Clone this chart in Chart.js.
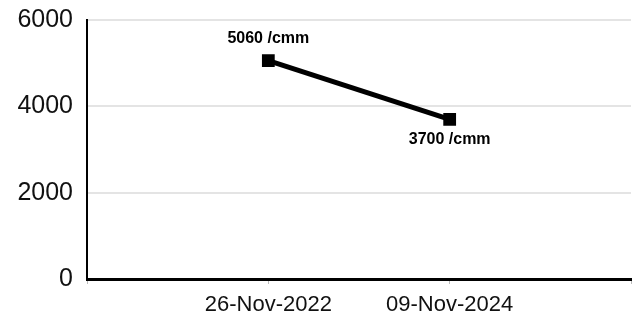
<!DOCTYPE html>
<html>
<head>
<meta charset="utf-8">
<script src="https://cdn.jsdelivr.net/npm/chart.js@4/dist/chart.umd.min.js"></script>
<style>
html,body{margin:0;padding:0;background:#fff;}
#wrap{width:636px;height:322px;position:relative;}
</style>
</head>
<body>
<div id="wrap"><canvas id="c"></canvas></div>
<script>
const categories = ['', '26-Nov-2022', '09-Nov-2024', ''];
const values = [null, 5060, 3700, null];
const pointLabels = [null, '5060 /cmm', '3700 /cmm', null];
const labelSide = [null, 'above', 'below', null];
const yTicks = [0, 2000, 4000, 6000];

const labelPlugin = {
  id: 'pointLabels',
  afterDatasetsDraw(chart) {
    const ctx = chart.ctx;
    const meta = chart.getDatasetMeta(0);
    ctx.save();
    ctx.font = 'bold 16px "Liberation Sans", Arial, sans-serif';
    ctx.fillStyle = '#000';
    ctx.textAlign = 'center';
    ctx.textBaseline = 'middle';
    meta.data.forEach((el, i) => {
      if (pointLabels[i] == null) return;
      const dy = labelSide[i] === 'above' ? -22 : 20;
      ctx.fillText(pointLabels[i], el.x, el.y + dy);
    });
    ctx.restore();
  }
};

new Chart(document.getElementById('c'), {
  type: 'line',
  data: {
    labels: categories,
    datasets: [{
      data: values,
      borderColor: '#000',
      backgroundColor: '#000',
      borderWidth: 5,
      pointStyle: 'rect',
      pointRadius: 5.5,
      pointHoverRadius: 5.5,
      tension: 0,
      spanGaps: false
    }]
  },
  options: {
    responsive: true,
    maintainAspectRatio: false,
    animation: false,
    events: [],
    layout: { autoPadding: false, padding: { top: 20, right: 5, left: 0, bottom: 0 } },
    plugins: { legend: { display: false }, tooltip: { enabled: false } },
    scales: {
      x: {
        offset: false,
        grid: { display: true, drawOnChartArea: false, drawTicks: true, tickLength: 5, color: '#bbbbbb' },
        border: { display: true, color: '#000', width: 3 },
        ticks: {
          color: '#111',
          font: { family: '"Liberation Sans", Arial, sans-serif', size: 22 },
          padding: 8,
          autoSkip: false,
          maxRotation: 0
        },
        afterFit(scale) { scale.height = 43; scale.paddingRight = 0; scale.paddingLeft = 0; }
      },
      y: {
        min: 0,
        max: 6000,
        afterBuildTicks(scale) { scale.ticks = yTicks.map(v => ({ value: v })); },
        grid: { color: '#e4e4e4', lineWidth: 2, drawTicks: false },
        border: { display: true, color: '#000', width: 2 },
        ticks: {
          color: '#111',
          font: { family: '"Liberation Sans", Arial, sans-serif', size: 25 },
          padding: 14,
          callback: v => String(v)
        },
        afterFit(scale) { scale.width = 87; scale.paddingTop = 0; scale.paddingBottom = 0; }
      }
    }
  },
  plugins: [labelPlugin]
});
</script>
</body>
</html>
